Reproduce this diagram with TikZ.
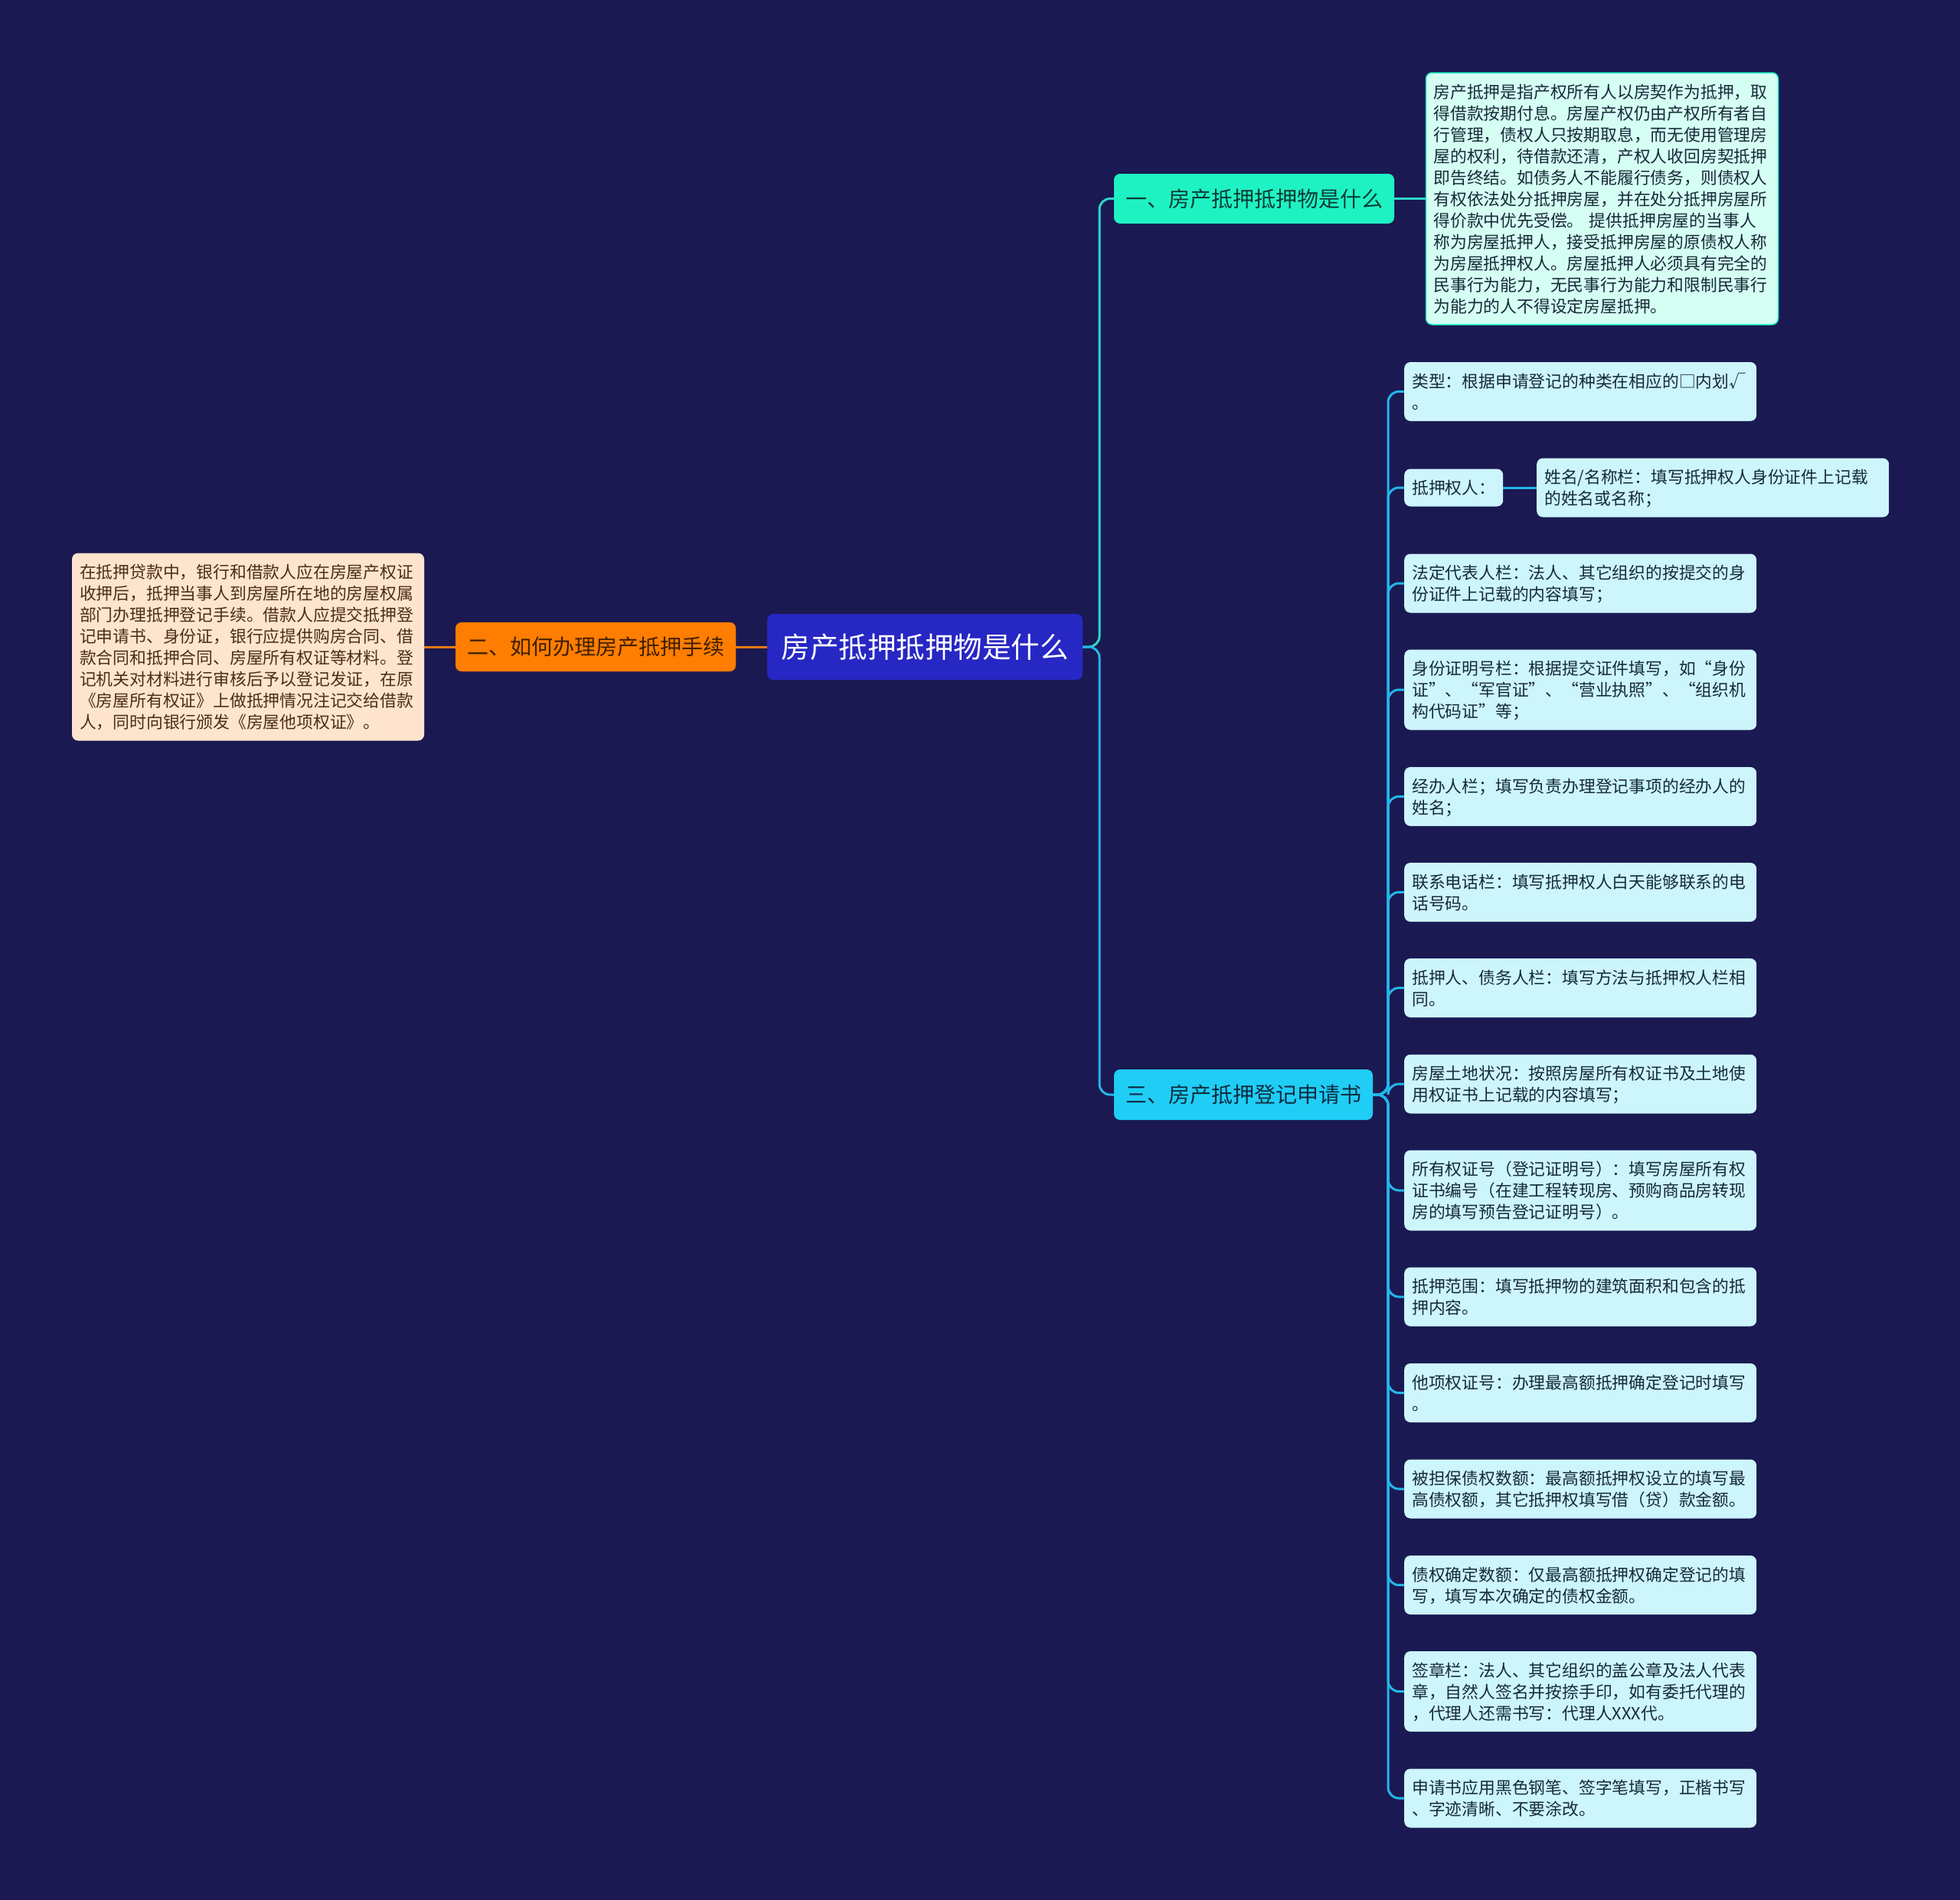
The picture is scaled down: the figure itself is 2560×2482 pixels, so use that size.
\documentclass[tikz,border=0pt]{standalone}
\usepackage{fontspec}
\setmainfont{Noto Sans CJK SC}
\definecolor{bg}{HTML}{1B1952}
\definecolor{rootfill}{HTML}{2727C4}
\definecolor{tone1}{HTML}{1EF2C3}
\definecolor{tone1text}{HTML}{0C3B33}
\definecolor{note1}{HTML}{D6FFF4}
\definecolor{tone2}{HTML}{FF7D00}
\definecolor{tone2line}{HTML}{E06A00}
\definecolor{tone2text}{HTML}{3E2000}
\definecolor{note2}{HTML}{FFE4CD}
\definecolor{note2text}{HTML}{4A2E14}
\definecolor{tone3}{HTML}{20CDF5}
\definecolor{tone3text}{HTML}{0B2C40}
\definecolor{leaffill}{HTML}{CDF5FC}
\definecolor{leaftext}{HTML}{152A38}
\definecolor{line1}{HTML}{2FD6C8}
\definecolor{line2}{HTML}{F07A10}
\definecolor{line3}{HTML}{24B6E8}
\newcommand{\lstrut}{\rule[-5.5pt]{0pt}{28pt}}
\tikzstyle{leafbox}=[fill=leaffill, rounded corners=8pt, text=leaftext, inner xsep=10pt, inner ysep=10.5pt, align=left, font=\fontsize{21.8}{28}\selectfont, execute at begin node=\lstrut, execute at end node=\lstrut]
\tikzstyle{leaf}=[leafbox, anchor=west, text width=440pt]
\tikzstyle{desc}=[leafbox, text width=440pt]
\tikzstyle{topic}=[rounded corners=8pt, inner xsep=15pt, minimum height=65pt, font=\fontsize{28}{34}\selectfont]
\tikzstyle{root}=[fill=rootfill, rounded corners=8pt, text=white, minimum width=412pt, minimum height=86pt, font=\fontsize{37.5}{44}\selectfont]
\tikzstyle{link1}=[draw=line1, line width=3pt, rounded corners=14pt]
\tikzstyle{link2}=[draw=line2, line width=3pt]
\tikzstyle{link3}=[draw=line3, line width=3pt, rounded corners=14pt]

\begin{document}
\begin{tikzpicture}[x=1pt, y=-1pt]
\fill[bg] (0,0) rectangle (2560,2482);
\node at (1208,845)[root](r){房产抵押抵押物是什么};
\node at (1638,259.5)[topic, fill=tone1, text=tone1text, minimum width=366pt](t1){一、房产抵押抵押物是什么};
\node at (778,845)[topic, fill=tone2, draw=tone2line, text=tone2text, minimum width=364pt, minimum height=64pt](t2){二、如何办理房产抵押手续};
\node at (1624,1430)[topic, fill=tone3, text=tone3text, minimum width=338pt, minimum height=66pt](t3){三、房产抵押登记申请书};
\node at (2092.5,259.5)[desc, fill=note1, draw=tone1, line width=1.5pt](d1){房产抵押是指产权所有人以房契作为抵押，取\\得借款按期付息。房屋产权仍由产权所有者自\\行管理，债权人只按期取息，而无使用管理房\\屋的权利，待借款还清，产权人收回房契抵押\\即告终结。如债务人不能履行债务，则债权人\\有权依法处分抵押房屋，并在处分抵押房屋所\\得价款中优先受偿。 提供抵押房屋的当事人\\称为房屋抵押人，接受抵押房屋的原债权人称\\为房屋抵押权人。房屋抵押人必须具有完全的\\民事行为能力，无民事行为能力和限制民事行\\为能力的人不得设定房屋抵押。};
\node at (324,845)[desc, fill=note2, text=note2text](d2){在抵押贷款中，银行和借款人应在房屋产权证\\收押后，抵押当事人到房屋所在地的房屋权属\\部门办理抵押登记手续。借款人应提交抵押登\\记申请书、身份证，银行应提供购房合同、借\\款合同和抵押合同、房屋所有权证等材料。登\\记机关对材料进行审核后予以登记发证，在原\\《房屋所有权证》上做抵押情况注记交给借款\\人，同时向银行颁发《房屋他项权证》。};
\node at (1834,511.5)[leaf](l1){类型：根据申请登记的种类在相应的□内划√\\。};
\node at (1834,637)[leafbox, anchor=west](l2){抵押权人：};
\node at (2007,637)[leaf](l2a){姓名/名称栏：填写抵押权人身份证件上记载\\的姓名或名称；};
\node at (1834,762)[leaf](l3){法定代表人栏：法人、其它组织的按提交的身\\份证件上记载的内容填写；};
\node at (1834,901)[leaf](l4){身份证明号栏：根据提交证件填写，如“身份\\证”、“军官证”、“营业执照”、“组织机\\构代码证”等；};
\node at (1834,1040.5)[leaf](l5){经办人栏；填写负责办理登记事项的经办人的\\姓名；};
\node at (1834,1165.5)[leaf](l6){联系电话栏：填写抵押权人白天能够联系的电\\话号码。};
\node at (1834,1290.5)[leaf](l7){抵押人、债务人栏：填写方法与抵押权人栏相\\同。};
\node at (1834,1416)[leaf](l8){房屋土地状况：按照房屋所有权证书及土地使\\用权证书上记载的内容填写；};
\node at (1834,1555)[leaf](l9){所有权证号（登记证明号）：填写房屋所有权\\证书编号（在建工程转现房、预购商品房转现\\房的填写预告登记证明号）。};
\node at (1834,1694)[leaf](l10){抵押范围：填写抵押物的建筑面积和包含的抵\\押内容。};
\node at (1834,1819.5)[leaf](l11){他项权证号：办理最高额抵押确定登记时填写\\。};
\node at (1834,1945)[leaf](l12){被担保债权数额：最高额抵押权设立的填写最\\高债权额，其它抵押权填写借（贷）款金额。};
\node at (1834,2070.5)[leaf](l13){债权确定数额：仅最高额抵押权确定登记的填\\写，填写本次确定的债权金额。};
\node at (1834,2209.5)[leaf](l14){签章栏：法人、其它组织的盖公章及法人代表\\章，自然人签名并按捺手印，如有委托代理的\\，代理人还需书写：代理人XXX代。};
\node at (1834,2349)[leaf](l15){申请书应用黑色钢笔、签字笔填写，正楷书写\\、字迹清晰、不要涂改。};
\draw[link1] (r.east) -- (1436,845) |- (t1.west);
\draw[link1] (t1.east) -- (d1.west);
\draw[link3] (r.east) -- (1436,845) |- (t3.west);
\draw[link2] (r.west) -- (t2.east);
\draw[link2] (t2.west) -- (d2.east);
\foreach \n in {1,...,15} {\draw[link3] (t3.east) -- (1813,1430) |- (l\n.west);}
\draw[link3] (l2.east) -- (l2a.west);
\end{tikzpicture}
\end{document}
